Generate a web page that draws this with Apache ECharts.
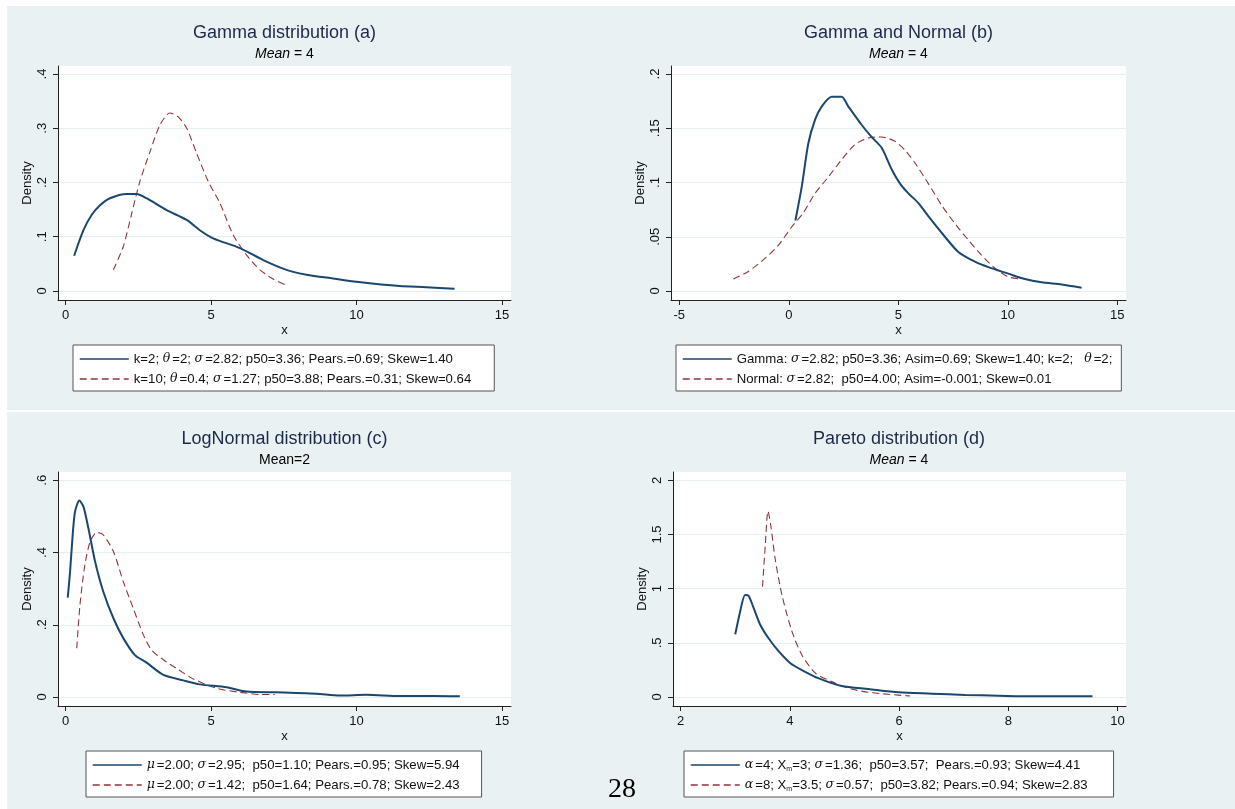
<!DOCTYPE html>
<html>
<head>
<meta charset="utf-8">
<script src="https://cdn.jsdelivr.net/npm/echarts@6/dist/echarts.min.js"></script>
<style>
html,body{margin:0;padding:0;background:#fff;}
#c{width:1235px;height:809px;}
</style>
</head>
<body>
<div id="c"></div>
<script>
// ---------- Data ----------
// Panel (a) Gamma distribution
const gammaK2 = [[0.29,0.065],[0.61,0.112],[0.89,0.140],[1.18,0.158],[1.52,0.171],[2.10,0.179],[2.44,0.179],[2.78,0.171],[3.47,0.149],[4.16,0.131],[4.61,0.112],[5.07,0.097],[5.99,0.079],[6.79,0.057],[7.59,0.039],[8.28,0.030],[9.19,0.023],[10.0,0.017],[11.48,0.009],[12.40,0.007],[13.37,0.004]];
const gammaK10 = [[1.64,0.039],[1.98,0.082],[2.27,0.143],[2.55,0.202],[2.90,0.257],[3.24,0.306],[3.58,0.328],[3.87,0.321],[4.16,0.300],[4.50,0.254],[4.90,0.202],[5.30,0.162],[5.76,0.103],[6.22,0.066],[6.68,0.039],[7.13,0.022],[7.53,0.012]];
// Panel (b) Gamma and Normal
const gammaB = [[0.30,0.065],[0.59,0.096],[0.89,0.136],[1.20,0.158],[1.50,0.170],[1.96,0.179],[2.41,0.179],[2.72,0.170],[3.33,0.153],[3.78,0.142],[4.24,0.132],[4.70,0.112],[5.08,0.099],[5.46,0.090],[5.92,0.081],[6.37,0.069],[7.13,0.050],[7.74,0.036],[8.50,0.027],[9.11,0.022],[10.02,0.016],[10.78,0.011],[11.54,0.008],[12.46,0.006],[13.37,0.003]];
const normalB = [[-2.53,0.011],[-1.85,0.018],[-1.09,0.030],[-0.48,0.042],[0.13,0.059],[0.66,0.072],[1.20,0.090],[1.80,0.105],[2.41,0.121],[3.02,0.135],[3.63,0.141],[4.24,0.142],[4.85,0.138],[5.30,0.130],[5.76,0.118],[6.37,0.099],[6.98,0.079],[7.59,0.062],[8.20,0.047],[8.80,0.033],[9.41,0.021],[10.02,0.013],[10.63,0.011]];
// Panel (c) LogNormal
const lognormWide = [[0.07,0.275],[0.15,0.347],[0.24,0.449],[0.32,0.513],[0.47,0.544],[0.61,0.527],[0.78,0.467],[1.01,0.375],[1.29,0.292],[1.64,0.218],[1.98,0.163],[2.38,0.116],[2.78,0.095],[3.36,0.061],[4.04,0.046],[4.61,0.035],[5.53,0.027],[6.22,0.015],[7.25,0.013],[8.62,0.009],[9.42,0.004],[10.34,0.006],[11.49,0.003],[12.63,0.003],[13.55,0.002]];
const lognormNarrow = [[0.38,0.135],[0.49,0.255],[0.66,0.366],[0.84,0.430],[1.07,0.456],[1.29,0.449],[1.64,0.403],[1.98,0.319],[2.32,0.246],[2.67,0.172],[2.95,0.130],[3.36,0.103],[3.81,0.079],[4.39,0.050],[5.19,0.024],[5.99,0.013],[6.68,0.007],[7.19,0.007]];
// Panel (d) Pareto
const paretoA4 = [[3.00,0.578],[3.09,0.788],[3.18,0.942],[3.245,0.935],[3.34,0.818],[3.46,0.665],[3.61,0.542],[3.79,0.425],[4.01,0.311],[4.22,0.249],[4.53,0.172],[4.95,0.102],[5.44,0.074],[5.99,0.043],[6.60,0.031],[7.21,0.019],[7.82,0.012],[8.43,0.006],[9.04,0.006],[9.54,0.006]];
const paretoA8 = [[3.50,1.018],[3.55,1.40],[3.60,1.717],[3.65,1.588],[3.73,1.28],[3.855,0.942],[4.04,0.603],[4.22,0.388],[4.47,0.219],[4.77,0.142],[5.08,0.080],[5.44,0.043],[5.81,0.025],[6.20,0.009]];

// Tick values
const xTicksA = [0,5,10,15];
const yTicksA = [0,0.1,0.2,0.3,0.4];
const xTicksB = [-5,0,5,10,15];
const yTicksB = [0,0.05,0.1,0.15,0.2];
const xTicksC = [0,5,10,15];
const yTicksC = [0,0.2,0.4,0.6];
const xTicksD = [2,4,6,8,10];
const yTicksD = [0,0.5,1,1.5,2];

// Texts
const titles = ['Gamma distribution (a)','Gamma and Normal (b)','LogNormal distribution (c)','Pareto distribution (d)'];
const subtitles = ['{i|Mean} = 4','{i|Mean} = 4','Mean=2','{i|Mean} = 4'];
const legA = ['k=2; θ=2; σ=2.82; p50=3.36; Pears.=0.69; Skew=1.40','k=10; θ=0.4; σ=1.27; p50=3.88; Pears.=0.31; Skew=0.64'];
const legB = ['Gamma: σ=2.82; p50=3.36; Asim=0.69; Skew=1.40; k=2;   θ=2;','Normal: σ=2.82;  p50=4.00; Asim=-0.001; Skew=0.01'];
const legC = ['μ=2.00; σ=2.95;  p50=1.10; Pears.=0.95; Skew=5.94','μ=2.00; σ=1.42;  p50=1.64; Pears.=0.78; Skew=2.43'];
const legD = ['α=4; Xm=3; σ=1.36;  p50=3.57;  Pears.=0.93; Skew=4.41','α=8; Xm=3.5; σ=0.57;  p50=3.82; Pears.=0.94; Skew=2.83'];

// ---------- Styling / layout ----------
const FONT = 'Liberation Sans';
const BLUE = '#1a476f';
const RED = '#90353b';
const BG = '#e9f1f3';
const GRIDLINE = '#e6eef0';

const panels = [
  {grid:{left:58,top:66,width:453,height:234}, x:[-0.265,15.309], y:[-0.0166,0.4147], xt:xTicksA, yt:yTicksA,
   s:[gammaK2,gammaK10], leg:legA, legPos:{left:73,top:345}, legPadR:23, tx:284.5, ty:23},
  {grid:{left:671,top:66,width:455,height:234}, x:[-5.379,15.397], y:[-0.0083,0.2074], xt:xTicksB, yt:yTicksB,
   s:[gammaB,normalB], leg:legB, legPos:{left:676,top:345}, legPadR:9, tx:898.5, ty:23},
  {grid:{left:58,top:472,width:453,height:234}, x:[-0.265,15.309], y:[-0.0249,0.6229], xt:xTicksC, yt:yTicksC,
   s:[lognormWide,lognormNarrow], leg:legC, legPos:{left:86,top:751}, legPadR:22, tx:284.5, ty:429},
  {grid:{left:673,top:472,width:453,height:234}, x:[1.861,10.154], y:[-0.083,2.077], xt:xTicksD, yt:yTicksD,
   s:[paretoA4,paretoA8], leg:legD, legPos:{left:684,top:751}, legPadR:26, tx:899, ty:429}
];

function fmtTick(v){
  if (v === 0) return '0';
  let s = String(+v.toFixed(4));
  return s.replace(/^0\./,'.').replace(/^-0\./,'-.');
}
function richName(name){
  return name.replace(/Xm/g,'X{sub|m}').replace(/([θσμα])/g,'{g|$1}');
}

const option = {
  backgroundColor: '#fff',
  animation: false,
  title: [], grid: [], xAxis: [], yAxis: [], series: [], legend: [],
  graphic: {elements: [
    {type:'rect', z:-100, shape:{x:7,y:6,width:1228,height:404}, style:{fill:BG}},
    {type:'rect', z:-100, shape:{x:7,y:412,width:1228,height:397}, style:{fill:BG}},
    {type:'text', z:100, x:622, y:790, style:{text:'28', font:'28px "Liberation Serif"', fill:'#000', textAlign:'center', textVerticalAlign:'middle'}}
  ]}
};

panels.forEach((p,i)=>{
  option.title.push({
    text: titles[i], left: p.tx, top: p.ty, textAlign:'center', padding:0,
    textStyle:{fontFamily:FONT, fontSize:18, fontWeight:'normal', color:'#1c2a48', lineHeight:20}
  });
  option.title.push({
    text: subtitles[i], left: p.tx, top: p.ty+23, textAlign:'center', padding:0,
    textStyle:{fontFamily:FONT, fontSize:14, fontWeight:'normal', color:'#000', lineHeight:16,
      rich:{i:{fontFamily:FONT, fontSize:14, fontStyle:'italic', color:'#000'}}}
  });
  option.grid.push(Object.assign({show:true, backgroundColor:'#fff', borderWidth:0, containLabel:false}, p.grid));
  option.xAxis.push({
    type:'value', gridIndex:i, min:p.x[0], max:p.x[1],
    name:'x', nameLocation:'middle', nameGap:24,
    nameTextStyle:{fontFamily:FONT, fontSize:13, color:'#111'},
    axisLine:{show:true, onZero:false, lineStyle:{color:'#222', width:1}},
    axisTick:{show:true, length:5, customValues:p.xt, lineStyle:{color:'#222'}},
    axisLabel:{customValues:p.xt, formatter:fmtTick, fontFamily:FONT, fontSize:13, color:'#111', margin:9},
    splitLine:{show:false}
  });
  option.yAxis.push({
    type:'value', gridIndex:i, min:p.y[0], max:p.y[1],
    name:'Density', nameLocation:'middle', nameGap:24,
    nameTextStyle:{fontFamily:FONT, fontSize:13, color:'#111'},
    axisLine:{show:true, onZero:false, lineStyle:{color:'#222', width:1}},
    axisTick:{show:true, length:5, customValues:p.yt, lineStyle:{color:'#222'}},
    axisLabel:{customValues:p.yt, formatter:fmtTick, rotate:90, fontFamily:FONT, fontSize:13, color:'#111', margin:9},
    splitLine:{show:true, lineStyle:{color:GRIDLINE, width:1.2}}
  });
  option.series.push({
    name:p.leg[0], type:'line', xAxisIndex:i, yAxisIndex:i, data:p.s[0], symbol:'none', smooth:0.25,
    lineStyle:{color:BLUE, width:2}, itemStyle:{color:BLUE}, z:3
  });
  option.series.push({
    name:p.leg[1], type:'line', xAxisIndex:i, yAxisIndex:i, data:p.s[1], symbol:'none', smooth:0.25,
    lineStyle:{color:RED, width:1.1, type:[7,4]}, itemStyle:{color:RED}, z:2
  });
  option.legend.push({
    data:[p.leg[0], p.leg[1]], orient:'vertical', left:p.legPos.left, top:p.legPos.top,
    padding:[6, p.legPadR, 4, 6], itemGap:4, itemWidth:49, itemHeight:14,
    backgroundColor:'#fff', borderColor:'#555', borderWidth:1, selectedMode:false,
    itemStyle:{opacity:0},
    lineStyle:{width:1.5},
    formatter: richName,
    textStyle:{fontFamily:FONT, fontSize:13.2, color:'#111', lineHeight:16,
      rich:{
        g:{fontFamily:'DejaVu Serif', fontStyle:'italic', fontSize:12.5, color:'#111', padding:[0,2,0,0]},
        sub:{fontFamily:FONT, fontSize:7, color:'#111', verticalAlign:'bottom', lineHeight:12}
      }}
  });
});

const chart = echarts.init(document.getElementById('c'), null, {renderer:'canvas'});
chart.setOption(option);
</script>
</body>
</html>
